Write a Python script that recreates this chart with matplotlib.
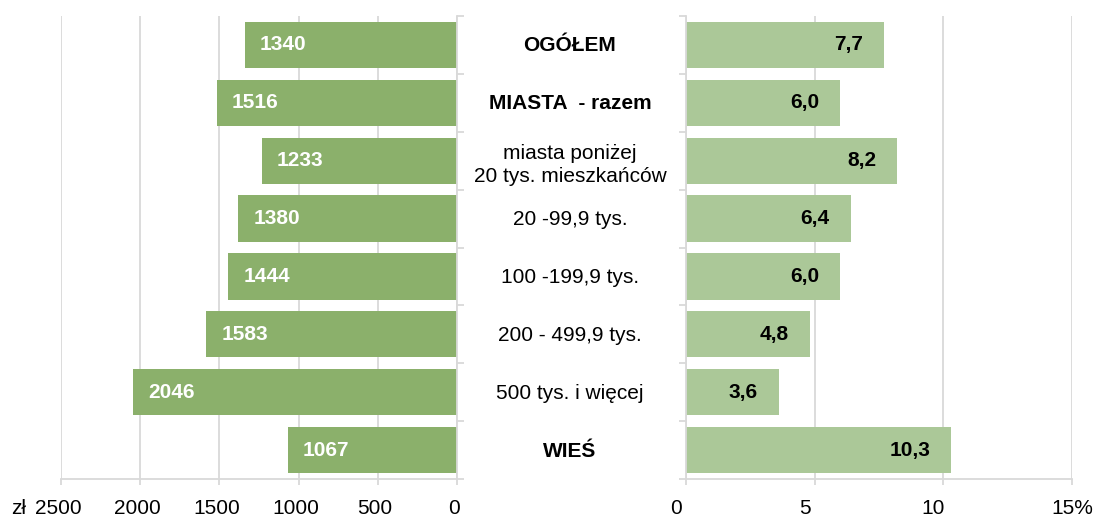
import matplotlib
matplotlib.use('Agg')
import matplotlib.pyplot as plt
from matplotlib.transforms import blended_transform_factory

plt.rcParams['font.family'] = ['Liberation Sans', 'DejaVu Sans']

# dane
kategorie = ['OGÓŁEM', 'MIASTA  - razem', 'miasta poniżej\n20 tys. mieszkańców',
             '20 -99,9 tys.', '100 -199,9 tys.', '200 - 499,9 tys.',
             '500 tys. i więcej', 'WIEŚ']
pogrubione = [True, True, False, False, False, False, False, True]
kwoty = [1340, 1516, 1233, 1380, 1444, 1583, 2046, 1067]
procenty = [7.7, 6.0, 8.2, 6.4, 6.0, 4.8, 3.6, 10.3]
kwoty_ticks = [2500, 2000, 1500, 1000, 500, 0]
kwoty_etykiety = ['2500', '2000', '1500', '1000', '500', '0']
proc_ticks = [0, 5, 10, 15]
proc_etykiety = ['0', '5', '10', '15%']

ZIELONY = '#8BB06B'
JASNY = '#ABC898'
SZARY = '#D9D9D9'
FS = 15
TICK_DY = -30

fig = plt.figure(figsize=(10.96, 5.2), dpi=100)
dol, wys = 1 - 479 / 520, (479 - 16) / 520
ax_l = fig.add_axes([61 / 1096, dol, (457 - 61) / 1096, wys])
ax_r = fig.add_axes([686 / 1096, dol, (1072 - 686) / 1096, wys])

y = list(range(len(kategorie)))
granice = [i - 0.5 for i in range(len(kategorie) + 1)]

for ax in (ax_l, ax_r):
    ax.set_ylim(len(kategorie) - 0.5, -0.5)
    ax.set_yticks(granice)
    ax.set_yticklabels([])
    ax.spines['top'].set_visible(False)
    ax.spines['bottom'].set_color(SZARY)
    ax.spines['bottom'].set_linewidth(1.3)
    ax.grid(axis='x', color=SZARY, linewidth=1.3)
    ax.set_axisbelow(True)
    ax.tick_params(axis='x', length=4.5, width=1.3, color=SZARY, labelbottom=False)
    ax.tick_params(axis='y', length=5, width=1.3, color=SZARY)

# lewa strona - kwoty
ax_l.barh(y, kwoty, height=0.8, color=ZIELONY, zorder=2)
ax_l.set_xlim(2500, 0)
ax_l.set_xticks(kwoty_ticks)
ax_l.spines['left'].set_visible(False)
ax_l.spines['right'].set_color(SZARY)
ax_l.spines['right'].set_linewidth(1.3)
ax_l.yaxis.tick_right()
for yi, v in zip(y, kwoty):
    ax_l.annotate(str(v), xy=(v, yi), xytext=(15, 0), textcoords='offset pixels',
                  ha='left', va='center', color='white', fontsize=FS, fontweight='bold')
for t, lab in zip(kwoty_ticks, kwoty_etykiety):
    ax_l.annotate(lab, xy=(t, 0), xycoords=('data', 'axes fraction'),
                  xytext=(-3, TICK_DY), textcoords='offset pixels',
                  ha='center', va='center', fontsize=FS)
ax_l.annotate('zł', xy=(2500, 0), xycoords=('data', 'axes fraction'),
              xytext=(-35, TICK_DY), textcoords='offset pixels',
              ha='right', va='center', fontsize=FS)

# prawa strona - procenty
ax_r.barh(y, procenty, height=0.8, color=JASNY, zorder=2)
ax_r.set_xlim(0, 15)
ax_r.set_xticks(proc_ticks)
ax_r.spines['right'].set_visible(False)
ax_r.spines['left'].set_color(SZARY)
ax_r.spines['left'].set_linewidth(1.3)
for yi, v in zip(y, procenty):
    ax_r.annotate(f'{v:.1f}'.replace('.', ','), xy=(v, yi), xytext=(-21, 0),
                  textcoords='offset pixels', ha='right', va='center',
                  color='black', fontsize=FS, fontweight='bold')
for t, lab in zip(proc_ticks, proc_etykiety):
    dx = 0 if lab.endswith('%') else -10
    ax_r.annotate(lab, xy=(t, 0), xycoords=('data', 'axes fraction'),
                  xytext=(dx, TICK_DY), textcoords='offset pixels',
                  ha='center', va='center', fontsize=FS)

# etykiety kategorii w srodku
tr = blended_transform_factory(fig.transFigure, ax_l.transData)
for yi, kat, b in zip(y, kategorie, pogrubione):
    dy = -4 if '\n' in kat else -1
    fig.add_artist(plt.Annotation(kat, xy=(570 / 1096, yi), xycoords=tr,
                                  xytext=(0, dy), textcoords='offset pixels',
                                  ha='center', va='center', fontsize=FS,
                                  fontweight='bold' if b else 'normal',
                                  linespacing=1.25))

fig.savefig('out.png', dpi=100)
